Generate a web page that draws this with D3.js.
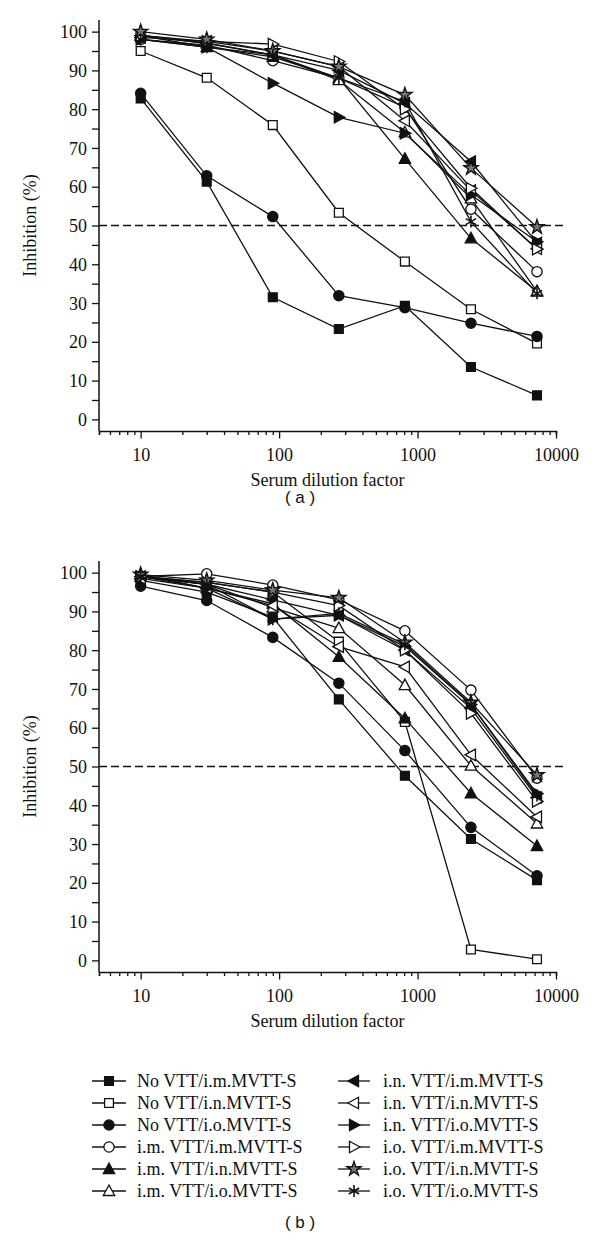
<!DOCTYPE html>
<html><head><meta charset="utf-8">
<script src="https://cdn.jsdelivr.net/npm/d3@7"></script>
<style>
body{margin:0;background:#fff;}
svg{display:block;}
</style></head>
<body>
<svg id="chart" width="600" height="1244"></svg>
<script>
// ---------- DATA ----------
const dilutions = [10, 30, 90, 270, 810, 2430, 7290];
const yTickLabels = [0, 10, 20, 30, 40, 50, 60, 70, 80, 90, 100];
const xTickLabels = [10, 100, 1000, 10000];
const panelTitles = ["( a )", "( b )"];
const seriesLabels = [
  "No VTT/i.m.MVTT-S", "No VTT/i.n.MVTT-S", "No VTT/i.o.MVTT-S",
  "i.m. VTT/i.m.MVTT-S", "i.m. VTT/i.n.MVTT-S", "i.m. VTT/i.o.MVTT-S",
  "i.n. VTT/i.m.MVTT-S", "i.n. VTT/i.n.MVTT-S", "i.n. VTT/i.o.MVTT-S",
  "i.o. VTT/i.m.MVTT-S", "i.o. VTT/i.n.MVTT-S", "i.o. VTT/i.o.MVTT-S"
];
const seriesMarkers = ["square","square","circle","circle","triUp","triUp","triLeft","triLeft","triRight","triRight","star","asterisk"];
const seriesFilled = [true,false,true,false,true,false,true,false,true,false,false,true];

// panel (a)
const aNoIm = [82.8, 61.3, 31.5, 23.3, 29.3, 13.5, 6.2];
const aNoIn = [95.0, 88.1, 75.9, 53.3, 40.7, 28.4, 19.6];
const aNoIo = [84.1, 62.8, 52.3, 31.9, 28.8, 24.8, 21.4];
const aImIm = [98.0, 96.5, 92.5, 88.0, 80.5, 54.2, 38.1];
const aImIn = [99.0, 96.0, 93.5, 88.0, 67.2, 46.7, 33.0];
const aImIo = [99.0, 97.0, 94.0, 87.5, 74.0, 57.0, 33.0];
const aInIm = [99.0, 97.0, 94.0, 90.0, 81.5, 66.5, 45.5];
const aInIn = [98.5, 97.5, 95.0, 91.0, 77.0, 59.0, 44.0];
const aInIo = [98.0, 96.0, 86.7, 77.9, 73.8, 57.9, 45.8];
const aIoIm = [99.0, 97.5, 96.8, 92.3, 80.0, 59.6, 43.9];
const aIoIn = [100.0, 98.0, 95.0, 91.0, 83.7, 64.8, 49.6];
const aIoIo = [98.0, 96.0, 94.0, 88.0, 82.0, 51.0, 32.5];

// panel (b)
const bNoIm = [98.0, 95.0, 88.5, 67.3, 47.6, 31.3, 20.7];
const bNoIn = [99.0, 97.5, 95.0, 82.2, 61.5, 2.8, 0.3];
const bNoIo = [96.5, 92.8, 83.3, 71.5, 54.1, 34.3, 21.8];
const bImIm = [99.0, 99.7, 96.8, 93.0, 85.0, 69.7, 47.0];
const bImIn = [99.5, 96.0, 92.0, 78.3, 62.4, 43.1, 29.5];
const bImIo = [99.0, 97.0, 91.0, 85.7, 71.0, 50.2, 35.3];
const bInIm = [99.0, 97.0, 93.0, 89.0, 80.0, 65.0, 42.0];
const bInIn = [98.5, 96.0, 91.5, 80.9, 75.7, 53.0, 37.0];
const bInIo = [99.0, 96.0, 88.0, 89.0, 81.0, 66.0, 43.0];
const bIoIm = [99.0, 97.5, 95.0, 91.5, 80.0, 63.7, 41.0];
const bIoIn = [99.5, 98.0, 95.5, 93.5, 82.0, 66.5, 47.8];
const bIoIo = [99.0, 97.0, 88.0, 89.5, 81.5, 66.0, 42.5];

const panelASeries = [aNoIm, aNoIn, aNoIo, aImIm, aImIn, aImIo, aInIm, aInIn, aInIo, aIoIm, aIoIn, aIoIo];
const panelBSeries = [bNoIm, bNoIn, bNoIo, bImIm, bImIn, bImIo, bInIm, bInIn, bInIo, bIoIm, bIoIn, bIoIo];
const thresholdValue = 50;

// ---------- DRAW ----------
const svg = d3.select("#chart");
const SERIF = "'Liberation Serif','Times New Roman',serif";
const SANS = "'Liberation Sans',Arial,sans-serif";
const INK = "#111";

function markerPath(kind){
  const r = 6;
  switch(kind){
    case "triUp": return `M0,${-r} L${r*0.95},${r*0.75} L${-r*0.95},${r*0.75}Z`;
    case "triLeft": return `M${-r},0 L${r*0.75},${-r*0.95} L${r*0.75},${r*0.95}Z`;
    case "triRight": return `M${r},0 L${-r*0.75},${-r*0.95} L${-r*0.75},${r*0.95}Z`;
    case "square": return d3.symbol(d3.symbolSquare, 78)();
    case "circle": return d3.symbol(d3.symbolCircle, 82)();
    case "star": return d3.symbol(d3.symbolStar, 62)();
    case "asterisk": {
      const a = 6; let p = "";
      [90, 30, 150].forEach(deg => {
        const t = deg*Math.PI/180, dx = a*Math.cos(t), dy = a*Math.sin(t);
        p += `M${-dx},${-dy}L${dx},${dy}`;
      });
      return p;
    }
  }
}
function drawMarker(g, kind, filled, x, y){
  const p = g.append("path").attr("d", markerPath(kind)).attr("transform", `translate(${x},${y})`)
    .attr("stroke", INK).attr("stroke-width", 1.3);
  if(kind === "asterisk") p.attr("fill","none").attr("stroke-width",1.6);
  else if(kind === "star") p.attr("fill", "#777").attr("stroke-width", 1.4);
  else p.attr("fill", filled ? INK : "#fff");
}

function drawPanel(offsetY, seriesList){
  const x = d3.scaleLog().domain([5, 10000]).range([99, 556]);
  const y = d3.scaleLinear().domain([-3, 103]).range([431 + offsetY, 20 + offsetY]);
  const g = svg.append("g");

  // y axis
  const yAxis = d3.axisLeft(y).tickValues(d3.range(0, 101, 5)).tickSize(7)
    .tickFormat(d => yTickLabels.includes(d) ? d : "");
  const ya = g.append("g").attr("transform", `translate(99,0)`).call(yAxis);
  ya.select(".domain").attr("d", `M0,${y(103)}V${y(-3)}`);
  // x axis
  const minor = [];
  for(let dec = 1; dec <= 1000; dec *= 10) for(let k = 1; k <= 9; k++){ const v = k*dec; if(v >= 5) minor.push(v); }
  minor.push(10000);
  const xAxis = d3.axisBottom(x).tickValues(minor).tickSize(4).tickFormat("");
  const xa = g.append("g").attr("transform", `translate(0,${y(-3)})`).call(xAxis);
  xa.selectAll(".tick line").filter(d => xTickLabels.includes(d)).attr("y2", 7.5);
  xa.selectAll(".tick").filter(d => xTickLabels.includes(d)).append("text")
    .attr("y", 30).attr("fill", INK).text(d => d);
  [ya, xa].forEach(a => {
    a.selectAll(".domain").attr("stroke", INK).attr("stroke-width", 1.5);
    a.selectAll(".tick line").attr("stroke", INK).attr("stroke-width", 1.3);
    a.selectAll("text").attr("font-family", SERIF).attr("font-size", 18).attr("fill", INK);
  });
  ya.selectAll(".tick text").attr("x", -12).attr("dy", "0.34em");

  // threshold dashed line
  g.append("line").attr("x1", x(5)).attr("x2", 566).attr("y1", y(thresholdValue)).attr("y2", y(thresholdValue))
    .attr("stroke", INK).attr("stroke-width", 1.3).attr("stroke-dasharray", "8,4");

  // series lines
  const line = d3.line().x((d,i) => x(dilutions[i])).y(d => y(d));
  seriesList.forEach(s => {
    g.append("path").attr("d", line(s)).attr("fill","none").attr("stroke", INK).attr("stroke-width", 1.3);
  });
  seriesList.forEach((s, si) => {
    s.forEach((v, i) => drawMarker(g, seriesMarkers[si], seriesFilled[si], x(dilutions[i]), y(v)));
  });

  // axis titles
  g.append("text").attr("x", (x(5)+x(10000))/2).attr("y", y(-3) + 55)
    .attr("text-anchor","middle").attr("font-family", SERIF).attr("font-size", 18).attr("fill", INK)
    .text("Serum dilution factor");
  g.append("text").attr("transform", `translate(36,${(y(0)+y(100))/2}) rotate(-90)`)
    .attr("text-anchor","middle").attr("font-family", SERIF).attr("font-size", 18).attr("fill", INK)
    .text("Inhibition (%)");
  return g;
}

drawPanel(0, panelASeries);
drawPanel(541, panelBSeries);

svg.append("text").attr("x", 300).attr("y", 503).attr("text-anchor","middle")
  .attr("font-family", SANS).attr("font-size", 17).attr("fill", INK).text(panelTitles[0]);
svg.append("text").attr("x", 300).attr("y", 1228).attr("text-anchor","middle")
  .attr("font-family", SANS).attr("font-size", 17).attr("fill", INK).text(panelTitles[1]);

// legend
const leg = svg.append("g");
seriesLabels.forEach((lab, i) => {
  const col = Math.floor(i / 6), row = i % 6;
  const cy = 1081 + row * 22;
  const lx0 = col === 0 ? 92 : 338, lx1 = col === 0 ? 126 : 370;
  const mx = col === 0 ? 109 : 354;
  const tx = col === 0 ? 137 : 383;
  leg.append("line").attr("x1", lx0).attr("x2", lx1).attr("y1", cy).attr("y2", cy).attr("stroke", INK).attr("stroke-width", 1.3);
  drawMarker(leg, seriesMarkers[i], seriesFilled[i], mx, cy);
  leg.append("text").attr("x", tx).attr("y", cy).attr("dy", "0.34em")
    .attr("font-family", SERIF).attr("font-size", 18).attr("fill", INK).text(lab);
});
</script>
</body></html>
